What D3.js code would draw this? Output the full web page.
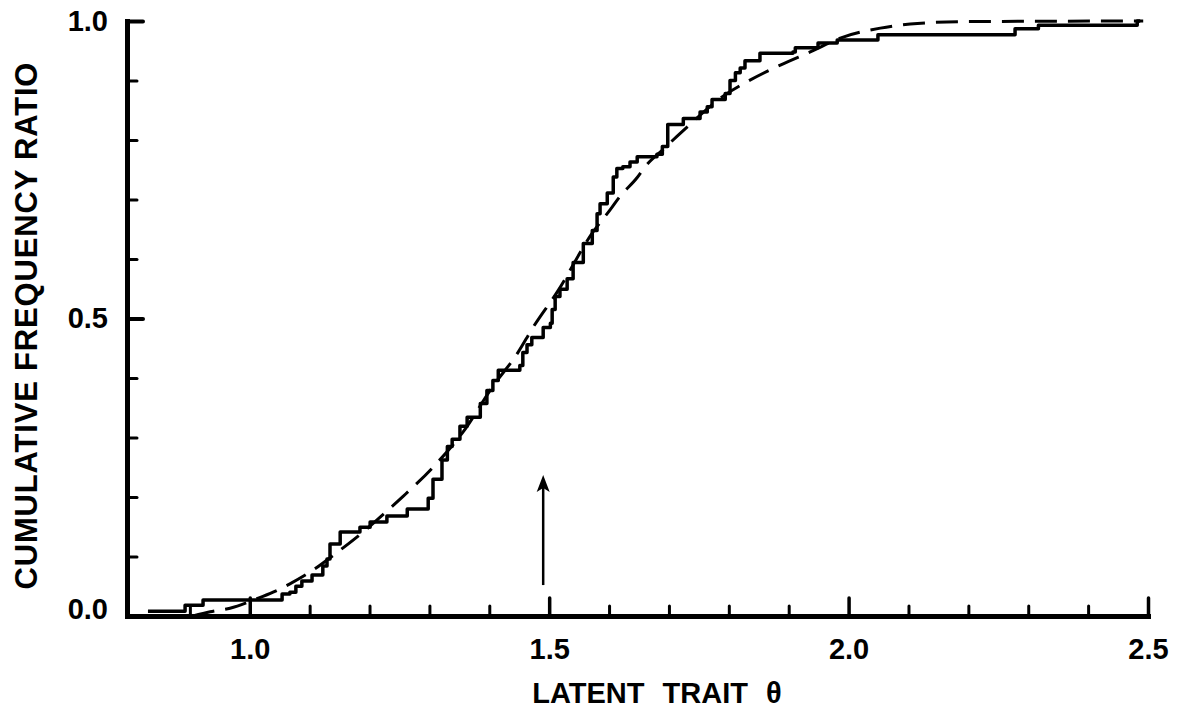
<!DOCTYPE html>
<html>
<head>
<meta charset="utf-8">
<script src="https://cdn.jsdelivr.net/npm/d3@7"></script>
<style>
  body { margin: 0; background: #fff; }
  svg text { font-family: "Liberation Sans", Arial, sans-serif; font-weight: bold; fill: #000; }
</style>
</head>
<body>
<div id="chart"></div>
<script>
var thetaSteps = [0.830, 0.892, 0.922, 1.054, 1.067, 1.077, 1.087, 1.104, 1.122, 1.129,
    1.134, 1.151, 1.184, 1.201, 1.229, 1.263, 1.298, 1.306, 1.321, 1.330,
    1.338, 1.351, 1.363, 1.385, 1.396, 1.406, 1.415, 1.451, 1.456, 1.463,
    1.471, 1.490, 1.502, 1.505, 1.510, 1.518, 1.530, 1.540, 1.557, 1.572,
    1.580, 1.585, 1.597, 1.607, 1.613, 1.623, 1.635, 1.647, 1.680, 1.689,
    1.698, 1.724, 1.752, 1.764, 1.772, 1.794, 1.802, 1.811, 1.819, 1.827,
    1.852, 1.907, 1.911, 1.949, 1.981, 2.049, 2.278, 2.317, 2.482, 2.487];
var ratioSteps = [0.008, 0.018, 0.027, 0.037, 0.040, 0.050, 0.059, 0.069, 0.084, 0.096,
    0.121, 0.141, 0.149, 0.158, 0.168, 0.180, 0.198, 0.230, 0.262, 0.285,
    0.297, 0.319, 0.334, 0.357, 0.379, 0.396, 0.413, 0.421, 0.443, 0.456,
    0.468, 0.485, 0.492, 0.515, 0.537, 0.549, 0.567, 0.594, 0.626, 0.648,
    0.676, 0.693, 0.711, 0.738, 0.752, 0.755, 0.763, 0.772, 0.776, 0.789,
    0.826, 0.836, 0.847, 0.856, 0.868, 0.878, 0.900, 0.913, 0.921, 0.933,
    0.946, 0.948, 0.955, 0.963, 0.968, 0.977, 0.987, 0.993, 1.000, 1.000];

// fitted curve (dashed)
var thetaFit = [0.905, 0.934, 0.967, 1.012, 1.039, 1.067, 1.101, 1.146, 1.189, 1.223,
    1.256, 1.306, 1.356, 1.406, 1.448, 1.473, 1.513, 1.573, 1.602, 1.618,
    1.647, 1.660, 1.690, 1.722, 1.794, 1.827, 1.886, 1.936, 1.991, 2.053,
    2.115, 2.200, 2.492];
var ratioFit = [0.000, 0.007, 0.013, 0.029, 0.040, 0.054, 0.074, 0.107, 0.141, 0.171,
    0.201, 0.250, 0.309, 0.386, 0.443, 0.485, 0.544, 0.645, 0.683, 0.705,
    0.737, 0.755, 0.784, 0.814, 0.876, 0.896, 0.926, 0.948, 0.973, 0.988,
    0.996, 0.999, 1.000];

var xMajorTicks = [1.0, 1.5, 2.0, 2.5];
var xTickLabels = ["1.0", "1.5", "2.0", "2.5"];
var xMinorTicks = [0.9, 1.1, 1.2, 1.3, 1.4, 1.6, 1.7, 1.8, 1.9, 2.1, 2.2, 2.3, 2.4];
var yMajorTicks = [0.0, 0.5, 1.0];
var yTickLabels = ["0.0", "0.5", "1.0"];
var yMinorTicks = [0.1, 0.2, 0.3, 0.4, 0.6, 0.7, 0.8, 0.9];

// arrow marking theta = 1.5
var arrowTheta = 1.49, arrowFrom = 0.052, arrowTo = 0.237;

var width = 1183, height = 713;
var svg = d3.select("#chart").append("svg")
    .attr("width", width)
    .attr("height", height);

var xScale = d3.scaleLinear().domain([0.795, 2.5]).range([127, 1148]);
var yScale = d3.scaleLinear().domain([0, 1]).range([616, 21]);

// curves first, axes drawn over them
var fitLine = d3.line()
    .x(function (d) { return xScale(d[0]); })
    .y(function (d) { return yScale(d[1]); })
    .curve(d3.curveMonotoneX);
svg.append("path")
    .datum(d3.zip(thetaFit, ratioFit))
    .attr("d", fitLine)
    .attr("fill", "none")
    .attr("stroke", "#000")
    .attr("stroke-width", 3)
    .attr("stroke-dasharray", "22,11");

var stepLine = d3.line()
    .x(function (d) { return xScale(d[0]); })
    .y(function (d) { return yScale(d[1]); })
    .curve(d3.curveStepAfter);
svg.append("path")
    .datum(d3.zip(thetaSteps, ratioSteps))
    .attr("d", stepLine)
    .attr("fill", "none")
    .attr("stroke", "#000")
    .attr("stroke-width", 3.5)
    .attr("stroke-linejoin", "round");

// arrow
var ax = xScale(arrowTheta);
svg.append("line")
    .attr("x1", ax).attr("x2", ax)
    .attr("y1", yScale(arrowFrom)).attr("y2", yScale(arrowTo) + 12)
    .attr("stroke", "#000")
    .attr("stroke-width", 2.5);
svg.append("path")
    .attr("d", "M" + ax + "," + yScale(arrowTo) + "l-6.5,17l6.5,-4l6.5,4z")
    .attr("fill", "#000");

// x axis: minor ticks, then major ticks with labels
var xMinor = d3.axisBottom(xScale).tickValues(xMinorTicks).tickSize(-10).tickSizeOuter(0).tickFormat("");
var xMajor = d3.axisBottom(xScale).tickValues(xMajorTicks).tickSize(-18).tickSizeOuter(0)
    .tickPadding(22)
    .tickFormat(function (d, i) { return xTickLabels[i]; });

var gxMinor = svg.append("g").attr("transform", "translate(0," + yScale(0) + ")").call(xMinor);
var gxMajor = svg.append("g").attr("transform", "translate(0," + yScale(0) + ")").call(xMajor);

var yMinor = d3.axisLeft(yScale).tickValues(yMinorTicks).tickSize(-10).tickSizeOuter(0).tickFormat("");
var yMajor = d3.axisLeft(yScale).tickValues(yMajorTicks).tickSize(-16).tickSizeOuter(0)
    .tickPadding(19)
    .tickFormat(function (d, i) { return yTickLabels[i]; });

var gyMinor = svg.append("g").attr("transform", "translate(" + xScale(0.795) + ",0)").call(yMinor);
var gyMajor = svg.append("g").attr("transform", "translate(" + xScale(0.795) + ",0)").call(yMajor);

[gxMinor, gxMajor, gyMinor, gyMajor].forEach(function (g) {
    g.select(".domain")
        .attr("stroke", "#000")
        .attr("stroke-width", 5)
        .attr("stroke-linecap", "square");
    g.selectAll(".tick line")
        .attr("stroke", "#000")
        .attr("stroke-width", 3)
        .attr("stroke-linecap", "round");
    g.selectAll(".tick text")
        .style("font-size", "29px")
        .attr("fill", "#000");
});
gxMajor.selectAll(".tick line").attr("stroke-width", 3.5);
gyMajor.selectAll(".tick line").attr("stroke-width", 4);
gyMajor.selectAll(".tick text").filter(function (d) { return d === 0; })
    .attr("dy", "0.1em");

// axis titles
svg.append("text")
    .attr("transform", "translate(37," + 326 + ") rotate(-90)")
    .attr("text-anchor", "middle")
    .attr("textLength", 527)
    .attr("lengthAdjust", "spacing")
    .style("font-size", "31px")
    .text("CUMULATIVE FREQUENCY RATIO");

svg.append("text")
    .attr("x", 657)
    .attr("y", 703)
    .attr("text-anchor", "middle")
    .style("font-size", "29px")
    .style("word-spacing", "10px")
    .text("LATENT TRAIT θ");
</script>
</body>
</html>
